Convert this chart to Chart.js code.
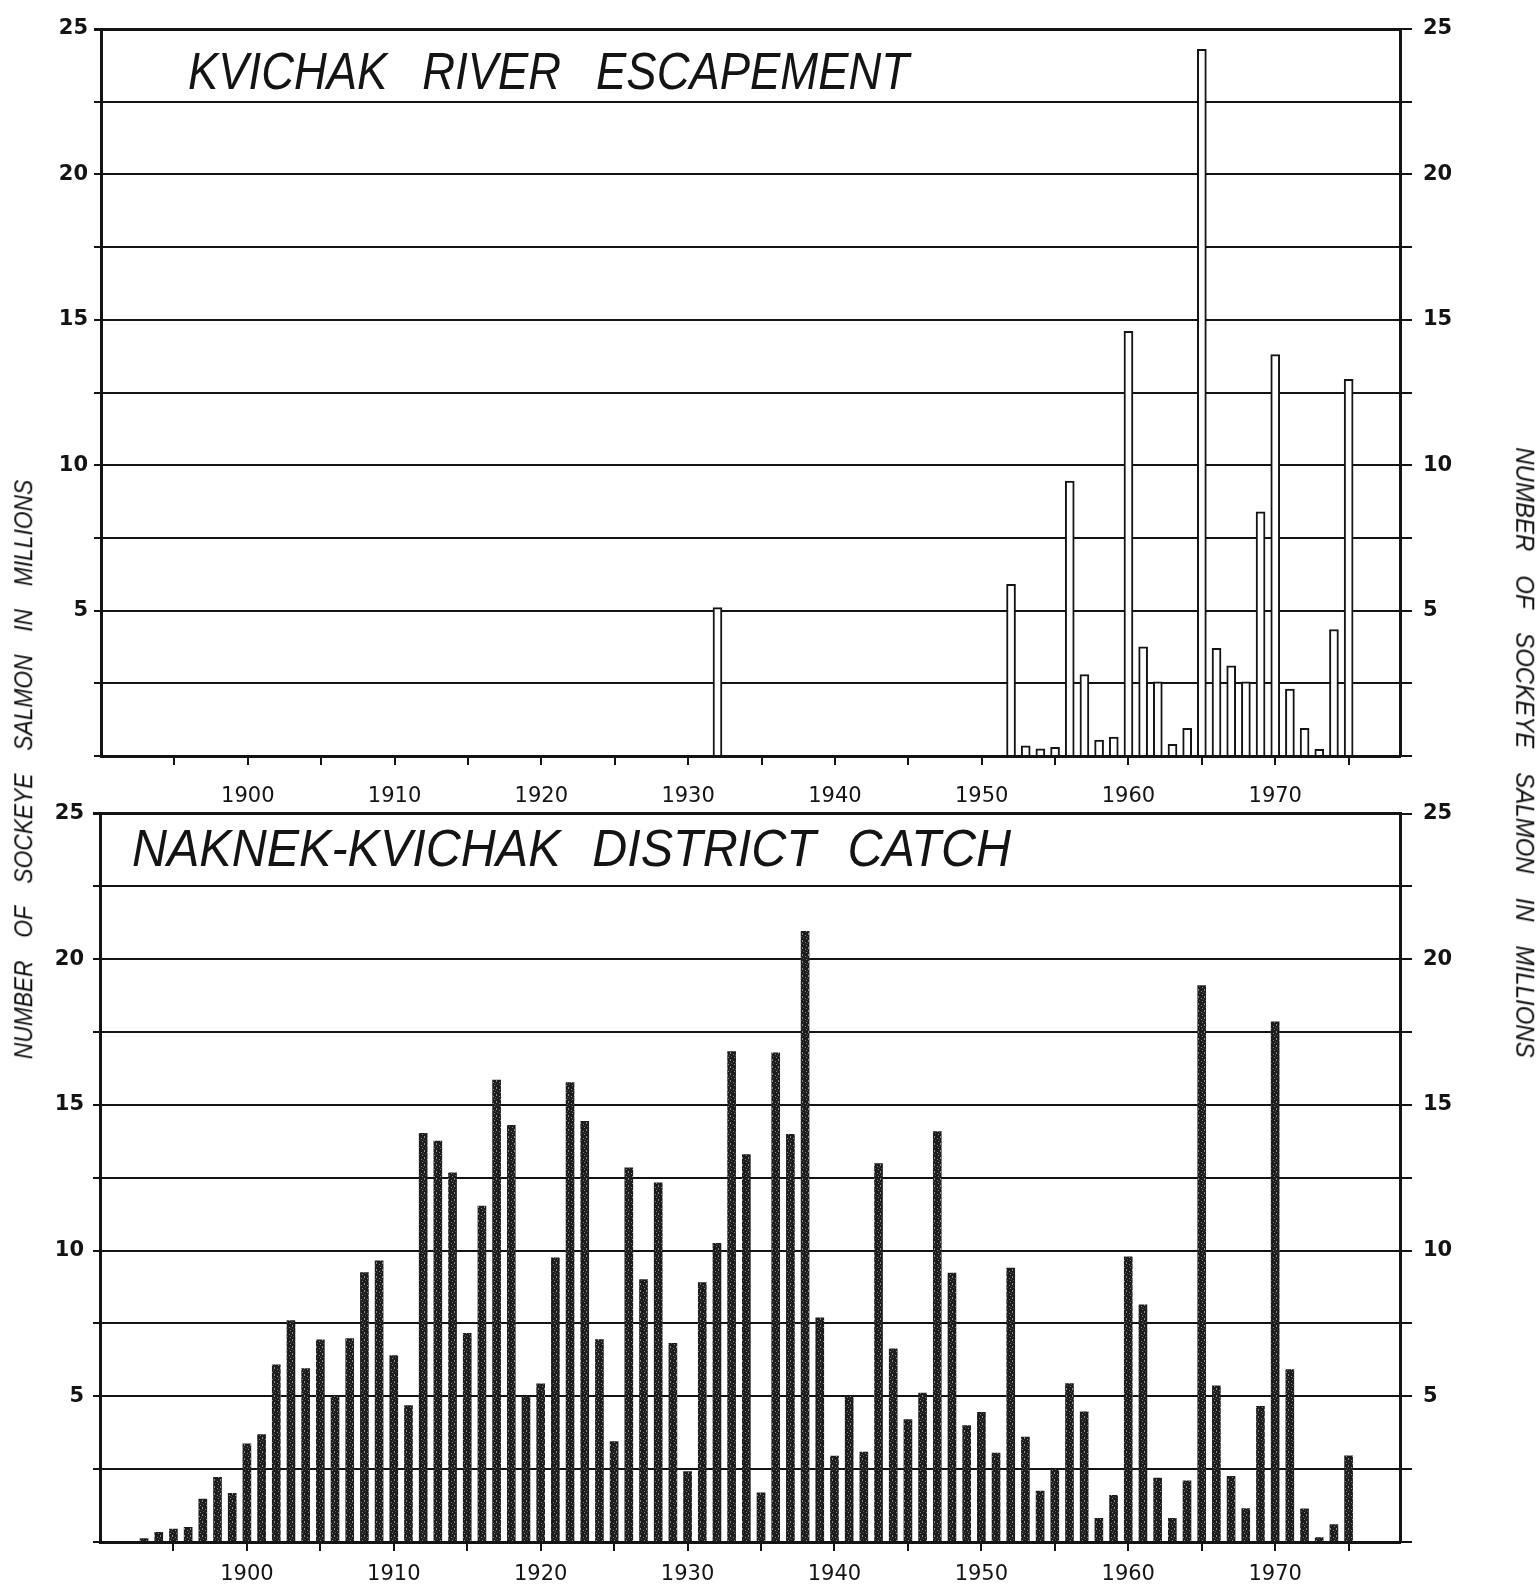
<!DOCTYPE html>
<html>
<head>
<meta charset="utf-8">
<script src="https://cdn.jsdelivr.net/npm/chart.js@4.4.0/dist/chart.umd.min.js"></script>
<style>
  html, body { margin: 0; padding: 0; background: #fff; width: 1536px; height: 1593px; overflow: hidden; }
  canvas { position: absolute; left: 0; }
  #topChart { top: 0; }
  #bottomChart { top: 790px; }
  .side {
    position: absolute;
    font-family: 'Liberation Sans', sans-serif;
    font-style: italic;
    font-size: 25px;
    word-spacing: 18px;
    white-space: nowrap;
    color: #111;
    line-height: 1;
  }
</style>
</head>
<body>
<canvas id="topChart" width="1536" height="812"></canvas>
<canvas id="bottomChart" width="1536" height="803"></canvas>
<div class="side" id="leftTitle">NUMBER OF SOCKEYE SALMON IN MILLIONS</div>
<div class="side" id="rightTitle">NUMBER OF SOCKEYE SALMON IN MILLIONS</div>
<script>
// Kvichak escapement (millions)
const escYears = [1932, 1952, 1953, 1954, 1955, 1956, 1957, 1958, 1959, 1960, 1961, 1962, 1963,
                  1964, 1965, 1966, 1967, 1968, 1969, 1970, 1971, 1972, 1973, 1974, 1975];
const escValues = [5.1, 5.9, 0.35, 0.25, 0.3, 9.45, 2.8, 0.55, 0.65, 14.6, 3.75, 2.55, 0.4,
                   0.95, 24.3, 3.7, 3.1, 2.55, 8.4, 13.8, 2.3, 0.95, 0.23, 4.35, 12.95];

// Naknek-Kvichak district catch (millions), lower panel
const catchYears = [1893, 1894, 1895, 1896, 1897, 1898, 1899, 1900, 1901, 1902, 1903, 1904, 1905,
                    1906, 1907, 1908, 1909, 1910, 1911, 1912, 1913, 1914, 1915, 1916, 1917, 1918,
                    1919, 1920, 1921, 1922, 1923, 1924, 1925, 1926, 1927, 1928, 1929, 1930, 1931,
                    1932, 1933, 1934, 1935, 1936, 1937, 1938, 1939, 1940, 1941, 1942, 1943, 1944,
                    1945, 1946, 1947, 1948, 1949, 1950, 1951, 1952, 1953, 1954, 1955, 1956, 1957,
                    1958, 1959, 1960, 1961, 1962, 1963, 1964, 1965, 1966, 1967, 1968, 1969, 1970,
                    1971, 1972, 1973, 1974, 1975];
const catchValues = [0.12, 0.33, 0.44, 0.5, 1.47, 2.22, 1.67, 3.37, 3.69, 6.08, 7.6, 5.95, 6.94,
                     5.0, 6.98, 9.25, 9.65, 6.4, 4.68, 14.03, 13.76, 12.67, 7.16, 11.53, 15.85, 14.3,
                     4.98, 5.43, 9.75, 15.77, 14.44, 6.95, 3.45, 12.84, 9.01, 12.33, 6.82, 2.42, 8.9,
                     10.25, 16.83, 13.3, 1.69, 16.79, 13.99, 20.96, 7.69, 2.95, 5.0, 3.09, 12.99, 6.63,
                     4.2, 5.11, 14.09, 9.23, 4.0, 4.45, 3.05, 9.4, 3.6, 1.75, 2.49, 5.44, 4.47,
                     0.81, 1.6, 9.79, 8.14, 2.19, 0.81, 2.1, 19.1, 5.36, 2.25, 1.15, 4.66, 17.85,
                     5.92, 1.14, 0.15, 0.6, 2.96];

// tick positions
const xTicks = [1895, 1900, 1905, 1910, 1915, 1920, 1925, 1930, 1935, 1940, 1945, 1950, 1955, 1960, 1965, 1970, 1975];
const yTicks = [0, 2.5, 5, 7.5, 10, 12.5, 15, 17.5, 20, 22.5, 25];

const INK = '#141414';

// title drawn inside the plot, words spread out like hand lettering
const panelTitle = {
    id: 'panelTitle',
    afterDraw(chart, args, opts) {
        const ctx = chart.ctx;
        const words = opts.text.split(' ');
        ctx.save();
        ctx.font = 'italic ' + opts.size + 'px "Liberation Sans", sans-serif';
        ctx.fillStyle = INK;
        ctx.textBaseline = 'alphabetic';
        const widths = words.map(w => ctx.measureText(w).width);
        const total = widths.reduce((a, b) => a + b, 0) + opts.gap * (words.length - 1);
        const sx = opts.width / total;
        ctx.translate(opts.x, opts.baseline);
        ctx.scale(sx, 1);
        let pos = 0;
        words.forEach((w, i) => {
            ctx.fillText(w, pos, 0);
            pos += widths[i] + opts.gap;
        });
        ctx.restore();
    }
};

// speckled dark fill for the catch bars
function makeSpeckle(ctx) {
    const c = document.createElement('canvas');
    c.width = 6;
    c.height = 7;
    const g = c.getContext('2d');
    g.fillStyle = '#1c1c1c';
    g.fillRect(0, 0, 6, 7);
    g.fillStyle = '#8a8a8a';
    g.fillRect(2, 1, 1, 1);
    g.fillRect(4, 3, 1, 2);
    g.fillRect(1, 5, 1, 1);
    g.fillStyle = '#555';
    g.fillRect(3, 6, 1, 1);
    g.fillRect(5, 0, 1, 1);
    return ctx.createPattern(c, 'repeat');
}

function makeChart(canvasId, years, values, cfg) {
    const ctx = document.getElementById(canvasId).getContext('2d');
    const fill = cfg.speckle ? makeSpeckle(ctx) : '#ffffff';
    return new Chart(ctx, {
        type: 'bar',
        data: {
            datasets: [{
                data: years.map((yr, i) => ({ x: yr, y: values[i] })),
                backgroundColor: fill,
                borderColor: INK,
                borderWidth: cfg.speckle ? 0 : 2,
                borderSkipped: 'start',
                barThickness: cfg.barW,
                xAxisID: 'x',
                yAxisID: 'y'
            }]
        },
        options: {
            responsive: false,
            animation: false,
            devicePixelRatio: 1,
            layout: { padding: { top: cfg.padTop, left: 0, right: 0, bottom: 0 } },
            plugins: {
                legend: { display: false },
                tooltip: { enabled: false },
                panelTitle: cfg.title
            },
            scales: {
                x: {
                    type: 'linear',
                    min: 1890,
                    max: 1978.5,
                    offset: false,
                    afterBuildTicks: s => { s.ticks = xTicks.map(v => ({ value: v })); },
                    afterFit: s => { s.height = cfg.xAxisH; },
                    grid: { offset: false, drawOnChartArea: false, drawTicks: true, tickLength: 9, color: INK, lineWidth: 2 },
                    border: { display: true, color: INK, width: 3 },
                    ticks: {
                        autoSkip: false,
                        maxRotation: 0,
                        padding: cfg.xPad,
                        color: INK,
                        font: { family: 'DejaVu Sans', size: 21 },
                        callback: v => (v % 10 === 0 ? String(v) : '')
                    }
                },
                y: {
                    type: 'linear',
                    position: 'left',
                    min: 0,
                    max: 25,
                    afterBuildTicks: s => { s.ticks = yTicks.map(v => ({ value: v })); },
                    afterFit: s => { s.width = cfg.leftW; },
                    grid: {
                        color: INK,
                        lineWidth: c => (c.tick && c.tick.value === 25 ? 3 : 2),
                        tickLength: 7
                    },
                    border: { display: true, color: INK, width: 3 },
                    ticks: {
                        padding: cfg.yPad,
                        color: INK,
                        font: { family: 'DejaVu Sans', size: 21, weight: 'bold' },
                        callback: v => (v > 0 && v % 5 === 0 ? String(v) : '')
                    }
                },
                y2: {
                    type: 'linear',
                    position: 'right',
                    min: 0,
                    max: 25,
                    afterBuildTicks: s => { s.ticks = yTicks.map(v => ({ value: v })); },
                    afterFit: s => { s.width = 136; },
                    grid: { drawOnChartArea: false, color: INK, lineWidth: 2, tickLength: 12 },
                    border: { display: true, color: INK, width: 3 },
                    ticks: {
                        padding: 11,
                        color: INK,
                        font: { family: 'DejaVu Sans', size: 21, weight: 'bold' },
                        callback: v => (v > 0 && v % 5 === 0 ? String(v) : '')
                    }
                }
            }
        },
        plugins: [panelTitle]
    });
}

makeChart('topChart', escYears, escValues, {
    speckle: false, barW: 9, padTop: 29, xAxisH: 56, xPad: 19, leftW: 101, yPad: 6,
    title: { text: 'KVICHAK RIVER ESCAPEMENT', x: 188, baseline: 89, width: 721, gap: 40, size: 52 }
});

makeChart('bottomChart', catchYears, catchValues, {
    speckle: true, barW: 8, padTop: 21, xAxisH: 51, xPad: 11, leftW: 100, yPad: 9,
    title: { text: 'NAKNEK-KVICHAK DISTRICT CATCH', x: 132, baseline: 76, width: 879, gap: 34, size: 52 }
});

// rotated side titles, stretched to the length they have in the original
function placeSide(id, cx, cy, length, angle) {
    const el = document.getElementById(id);
    const w = el.offsetWidth;
    const h = el.offsetHeight;
    el.style.left = (cx - w / 2) + 'px';
    el.style.top = (cy - h / 2) + 'px';
    el.style.transform = 'rotate(' + angle + 'deg) scaleX(' + (length / w) + ')';
}
placeSide('leftTitle', 23, 769, 579, -90);
placeSide('rightTitle', 1524, 752, 610, 90);
</script>
</body>
</html>
